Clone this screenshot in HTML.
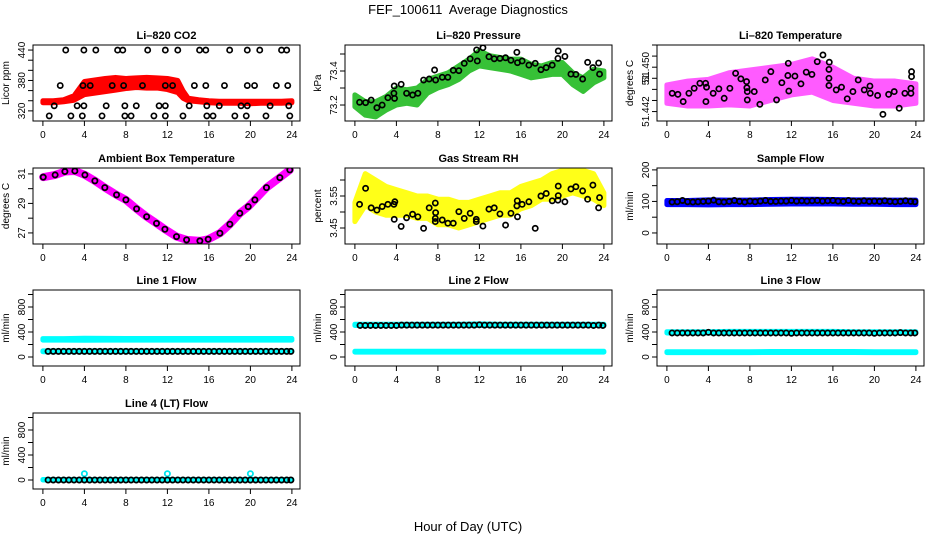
<!DOCTYPE html>
<html><head><meta charset="utf-8"><style>
body{margin:0;background:#fff;}
svg{display:block;font-family:"Liberation Sans",sans-serif;}
</style></head><body>
<svg id="chart" width="936" height="540" xmlns="http://www.w3.org/2000/svg">
<rect width="936" height="540" fill="#fff"/>
<text x="468" y="14" text-anchor="middle" font-size="13" xml:space="preserve">FEF_100611  Average Diagnostics</text>
<text x="468" y="531" text-anchor="middle" font-size="13">Hour of Day (UTC)</text>
</svg>
<script>
// ---------- data ----------
const xTicks = [0,4,8,12,16,20,24];
// CO2
const co2BlackX = [2.2,3.95,5.1,7.2,7.7,10.1,11.8,13.0,15.1,15.7,18.0,19.7,20.9,23.0,23.5,
 1.67,3.86,4.56,6.68,7.78,9.6,11.8,12.5,14.6,15.7,17.5,19.7,20.4,22.5,23.6,
 1.09,3.3,3.95,6.1,7.9,9.0,11.2,11.8,14.1,15.8,17.0,19.1,19.7,21.9,23.7,
 0.61,2.7,3.8,5.7,7.9,8.5,10.7,11.8,13.5,15.8,16.4,18.5,19.6,21.5,23.8];
const co2BlackY = [440,440,440,440,440,440,440,440,440,440,440,440,440,440,440,
 370,370,370,370,370,370,370,370,370,370,370,370,370,370,370,
 330,330,330,330,330,330,330,330,330,330,330,330,330,330,330,
 310,310,310,310,310,310,310,310,310,310,310,310,310,310,310];
const co2BandX = [0,1,2,3,4,5,6,7,8,9,10,11,12,13,13.5,14,15,16,17,18,19,20,21,22,23,24];
const co2BandLo = [336,336,338,341,352,355,358,361,364,366,365,365,362,356,345,340,338,336,335,335,335,334,335,335,335,336];
const co2BandHi = [340,340,342,350,378,381,384,386,384,385,386,385,384,380,360,345,342,340,339,339,339,339,339,339,339,340];
// Pressure
const presBlackX = [0.45,1.03,1.57,2.12,2.63,3.18,3.76,3.82,3.79,4.46,4.98,5.56,6.07,6.62,7.16,7.68,7.78,8.42,8.96,9.48,10.02,10.54,11.11,11.73,11.8,12.34,12.92,13.43,13.98,14.52,15.04,15.61,15.67,16.12,16.77,17.38,17.93,18.44,19.02,19.57,19.6,20.24,20.82,21.3,21.95,22.43,22.94,23.49,23.58];
const presBlackY = [73.216,73.214,73.229,73.184,73.200,73.243,73.269,73.239,73.312,73.322,73.269,73.259,73.269,73.347,73.353,73.406,73.347,73.363,73.363,73.404,73.402,73.445,73.472,73.524,73.459,73.537,73.484,73.472,73.474,73.478,73.463,73.510,73.449,73.459,73.435,73.445,73.408,73.420,73.435,73.474,73.518,73.486,73.382,73.380,73.353,73.451,73.420,73.447,73.382];
const presBandX = [0,1,2,3,4,5,6,7,8,9,10,11,12,13,14,15,16,17,18,19,20,21,22,23,24];
const presBandLo = [73.19,73.14,73.13,73.17,73.20,73.21,73.20,73.27,73.30,73.32,73.35,73.40,73.43,73.42,73.41,73.40,73.38,73.36,73.37,73.38,73.38,73.32,73.28,73.33,73.36];
const presBandHi = [73.26,73.22,73.22,73.25,73.30,73.29,73.30,73.35,73.37,73.39,73.43,73.47,73.52,73.49,73.48,73.47,73.47,73.44,73.43,73.45,73.45,73.39,73.36,73.41,73.40];
// Li-820 temperature
const tempBlackX = [0.51,1.06,1.57,2.12,2.63,3.18,3.73,3.82,3.76,4.46,5.01,5.52,6.07,6.62,7.13,7.68,7.71,7.75,7.75,8.42,8.96,9.48,10.02,10.57,11.08,11.66,11.7,11.75,12.34,12.92,13.43,13.98,14.49,15.04,15.65,15.62,15.62,15.62,16.32,16.83,17.38,17.93,18.44,19.02,19.57,19.6,20.31,20.82,21.37,21.91,22.39,22.94,23.52,23.52,23.58,23.58];
const tempBlackY = [51.4453,51.4451,51.4438,51.4453,51.4462,51.4471,51.4471,51.4464,51.4438,51.4453,51.4461,51.4444,51.4462,51.4489,51.4479,51.4474,51.4463,51.4456,51.4441,51.4456,51.4433,51.4477,51.4492,51.4441,51.4472,51.4485,51.4507,51.4457,51.4484,51.4470,51.4491,51.4487,51.4510,51.4522,51.4509,51.4496,51.4480,51.4467,51.4459,51.4464,51.4443,51.4456,51.4477,51.4459,51.4466,51.4453,51.4449,51.4415,51.4451,51.4456,51.4426,51.4453,51.4453,51.4462,51.4483,51.4492];
const tempBandX = [0,2,4,6,8,10,12,14,16,18,20,22,24];
const tempBandLo = [51.4435,51.4430,51.4430,51.4432,51.4430,51.4440,51.4450,51.4455,51.4440,51.4435,51.4430,51.4430,51.4435];
const tempBandHi = [51.4468,51.4475,51.4478,51.4490,51.4495,51.4500,51.4505,51.4515,51.4500,51.4480,51.4475,51.4475,51.4470];
// Ambient box temperature
const ambX = [0.03,1.18,2.12,3.08,4.05,5.01,5.97,7.1,8.0,9.03,10.0,10.95,11.76,12.88,13.85,15.13,15.93,17.06,18.02,18.98,19.79,20.43,21.55,22.84,23.8];
const ambY = [30.78,30.93,31.16,31.2,30.93,30.53,30.07,29.58,29.24,28.63,28.1,27.65,27.25,26.75,26.53,26.46,26.57,26.98,27.59,28.33,28.78,29.24,30.07,30.75,31.27];
// Gas stream RH
const rhBlackX = [0.45,1.03,1.57,2.12,2.63,3.18,3.76,3.85,3.79,4.46,4.98,5.56,6.07,6.62,7.16,7.78,7.75,7.75,7.75,8.42,8.96,9.48,10.02,10.54,11.11,11.7,11.7,12.34,12.92,13.43,13.98,14.52,15.04,15.61,15.67,15.65,16.12,16.77,17.38,17.93,18.44,19.02,19.57,19.6,19.6,20.24,20.82,21.3,21.95,22.43,22.94,23.49,23.58];
const rhBlackY = [3.524,3.574,3.513,3.506,3.517,3.524,3.524,3.532,3.477,3.455,3.482,3.493,3.485,3.449,3.513,3.498,3.480,3.470,3.528,3.475,3.465,3.465,3.501,3.480,3.496,3.477,3.470,3.456,3.509,3.513,3.494,3.459,3.496,3.519,3.485,3.535,3.524,3.532,3.449,3.550,3.558,3.535,3.537,3.551,3.581,3.532,3.572,3.579,3.566,3.540,3.584,3.513,3.545];
const rhBandX = [0,1,2,3,4,5,6,7,8,9,10,11,12,13,14,15,16,17,18,19,20,21,22,23,24];
const rhBandLo = [3.47,3.52,3.50,3.49,3.49,3.49,3.48,3.48,3.46,3.46,3.45,3.46,3.47,3.48,3.49,3.49,3.51,3.52,3.54,3.54,3.55,3.56,3.55,3.54,3.52];
const rhBandHi = [3.53,3.62,3.60,3.58,3.57,3.56,3.55,3.55,3.54,3.54,3.53,3.53,3.54,3.55,3.56,3.56,3.58,3.59,3.60,3.62,3.63,3.64,3.63,3.62,3.56];
// Flow panels (shared hour grid)
const flowHours = [0.5,1,1.5,2,2.5,3,3.5,4,4.5,5,5.5,6,6.5,7,7.5,8,8.5,9,9.5,10,10.5,11,11.5,12,12.5,13,13.5,14,14.5,15,15.5,16,16.5,17,17.5,18,18.5,19,19.5,20,20.5,21,21.5,22,22.5,23,23.5,23.9];
const bandHours = [0,2,4,6,8,10,12,14,16,18,20,22,24];
const sampleBlack = [98,99,103,99,98,99,100,101,104,99,98,100,103,100,98,101,99,101,103,100,100,101,101,103,101,102,101,102,103,101,102,103,101,100,103,101,100,102,100,101,100,102,100,99,100,102,100,99];
const sampleLo = [90,90,89,90,90,91,92,92,92,91,91,90,90];
const sampleHi = [103,103,105,104,104,106,107,107,106,105,105,104,104];
const line1Black = [90,90,90,90,90,90,90,90,90,90,90,90,90,90,90,90,90,90,90,90,90,90,90,90,90,90,90,90,90,90,90,90,90,90,90,90,90,90,90,90,90,90,90,90,90,90,90,90];
const line1HiLo = [270,270,268,270,270,270,270,270,270,270,270,270,270];
const line1HiHi = [295,295,300,298,296,296,296,296,296,296,296,296,296];
const line1LoLo = [85,85,85,85,85,85,85,85,85,85,85,85,85];
const line1LoHi = [98,98,98,98,98,98,98,98,98,98,98,98,98];
const line2Black = [505,505,505,505,505,505,505,505,510,510,510,510,510,510,510,510,510,510,510,510,510,510,510,515,510,510,510,510,510,510,510,510,510,510,510,510,510,510,510,510,510,510,510,510,510,505,510,505];
const line2HiLo = [505,505,505,505,505,505,505,505,505,505,505,505,505];
const line2HiHi = [525,525,525,525,525,525,530,525,525,525,525,525,525];
const line2LoLo = [78,78,78,78,78,78,78,78,78,78,78,78,78];
const line2LoHi = [92,92,92,92,92,92,92,92,92,92,92,92,92];
const line3Black = [385,385,385,385,385,385,385,395,385,385,385,385,385,385,385,385,385,385,385,385,385,385,385,380,385,385,385,385,385,385,385,385,385,385,385,385,385,385,385,380,385,385,385,385,390,385,385,385];
const line3HiLo = [385,385,385,385,385,385,385,385,385,385,385,385,385];
const line3HiHi = [405,405,405,410,410,410,410,410,410,405,405,405,405];
const line3LoLo = [70,70,70,70,70,72,72,72,72,72,70,70,70];
const line3LoHi = [85,85,85,85,85,88,88,88,88,88,85,85,85];
const line4Black = [0,0,0,0,0,0,0,0,0,0,0,0,0,0,0,0,0,0,0,0,0,0,0,0,0,0,0,0,0,0,0,0,0,0,0,0,0,0,0,0,0,0,0,0,0,0,0,0];
const line4LoLo = [0,0,0,0,0,0,0,0,0,0,0,0,0];
const line4LoHi = [8,8,8,8,8,8,8,8,8,8,8,8,8];
const line4OutX = [4,12,20];
const line4OutY = [100,100,100];

// ---------- layout ----------
const NS = "http://www.w3.org/2000/svg";
const svg = document.getElementById("chart");
const colL = [33,345,657], rowT = [45,168,290,413], PW = 267, PH = 76;
function mk(tag, attrs, parent){ const e=document.createElementNS(NS,tag); for(const k in attrs) e.setAttribute(k,attrs[k]); (parent||svg).appendChild(e); return e; }

function panel(c, r, title, ylab, ymin, ymax, yt, ylabVals, ylabTxt, key){
  const L=colL[c], T=rowT[r];
  const g = mk("g",{});
  
  
  const xs = h => L + 9.9 + h*10.375;
  const ys = v => T + PH - (v-ymin)/(ymax-ymin)*PH;
  const t = mk("text",{x:L+PW/2,y:T-6,"text-anchor":"middle","font-size":"11","font-weight":"bold"},g);
  t.textContent = title;
  
  
  const yl = mk("text",{x:0,y:0,"text-anchor":"middle","font-size":"10",transform:`translate(${L-24},${T+PH/2}) rotate(-90)`},g);
  yl.textContent = ylab;
  
  
  xTicks.forEach(h=>{
    mk("line",{x1:xs(h),x2:xs(h),y1:T+PH,y2:T+PH+5,stroke:"#000","stroke-width":1},g);
    const tx = mk("text",{x:xs(h),y:T+PH+17,"text-anchor":"middle","font-size":"10"},g);
    tx.textContent = h;
    
    
  });
  yt.forEach(v=>{ mk("line",{x1:L-5,x2:L,y1:ys(v),y2:ys(v),stroke:"#000","stroke-width":1},g); });
  ylabVals.forEach((v,i)=>{
    const tt = mk("text",{x:0,y:0,"text-anchor":"middle","font-size":"10",transform:`translate(${L-8},${ys(v)}) rotate(-90)`},g);
    tt.textContent = ylabTxt[i];
    
    
  });
  const clip = mk("clipPath",{id:"clip"+key},g);
  mk("rect",{x:L,y:T,width:PW,height:PH},clip);
  const plot = mk("g",{"clip-path":`url(#clip${key})`},g);
  const box = mk("rect",{x:L,y:T,width:PW,height:PH,fill:"none",stroke:"#000","stroke-width":1},g);
  
  
  return {plot, xs, ys};
}
function band(p, X, lo, hi, color, name, sw, op){
  const pts = X.map((h,i)=>`${p.xs(h)},${p.ys(hi[i])}`).concat(X.map((h,i)=>`${p.xs(h)},${p.ys(lo[i])}`).reverse()).join(" ");
  const e = mk("polygon",{points:pts,fill:color,stroke:color,"stroke-width":sw||5,"stroke-linejoin":"round",opacity:op||1},p.plot);
  
  
}
function pts(p, X, Y, color, name, sw){
  const g = mk("g",{},p.plot);
  
  
  X.forEach((h,i)=>{
    const c = mk("circle",{cx:p.xs(h),cy:p.ys(Y[i]),r:2.6,fill:"none",stroke:color,"stroke-width":sw||1.7},g);
    
    
  });
}
function line(p, X, Y, color, w, name){
  const e = mk("polyline",{points:X.map((h,i)=>`${p.xs(h)},${p.ys(Y[i])}`).join(" "),fill:"none",stroke:color,"stroke-width":w,"stroke-linejoin":"round","stroke-linecap":"round"},p.plot);
  
  
}

// Row 1
let p = panel(0,0,"Li\u2013820 CO2","Licor ppm",300,450,[320,340,360,380,400,420,440],[320,380,440],["320","380","440"],"co2");
band(p,co2BandX,co2BandLo,co2BandHi,"#ff0000","co2-band");
pts(p,co2BlackX,co2BlackY,"#000","co2-average");

p = panel(1,0,"Li\u2013820 Pressure","kPa",73.106,73.553,[73.2,73.3,73.4,73.5],[73.2,73.4],["73.2","73.4"],"pressure");
band(p,presBandX,presBandLo,presBandHi,"#22bb22","pressure-band",5,0.9);
pts(p,presBlackX,presBlackY,"#000","pressure-average");

p = panel(2,0,"Li\u2013820 Temperature","degrees C",51.4403,51.4540,[51.442,51.444,51.446,51.448,51.450,51.452,51.454],[51.442,51.448,51.450],["51.442","51.","51.450"],"temp");
band(p,tempBandX,tempBandLo,tempBandHi,"#ff33ff","temp-band",5,0.8);
pts(p,tempBlackX,tempBlackY,"#000","temp-average");

// Row 2
p = panel(0,1,"Ambient Box Temperature","degrees C",26.25,31.4,[27,28,29,30,31],[27,29,31],["27","29","31"],"ambient");
line(p,ambX,ambY,"#ff00ff",8,"ambient-band");
pts(p,ambX,ambY,"#000","ambient-average",1.8);

p = panel(1,1,"Gas Stream RH","percent",3.40,3.6375,[3.45,3.50,3.55,3.60],[3.45,3.55],["3.45","3.55"],"rh");
band(p,rhBandX,rhBandLo,rhBandHi,"#ffff00","rh-band",5,0.9);
pts(p,rhBlackX,rhBlackY,"#000","rh-average");

p = panel(2,1,"Sample Flow","ml/min",-35,206,[0,50,100,150,200],[0,100,200],["0","100","200"],"sample");
band(p,bandHours,sampleLo,sampleHi,"#0000ff","sample-band");
pts(p,flowHours,sampleBlack,"#000","sample-average",1.8);

// Row 3 / 4 flows
const fT=[0,200,400,600,800,1000], fL=[0,400,800], fLt=["0","400","800"];
p = panel(0,2,"Line 1 Flow","ml/min",-144,1072,fT,fL,fLt,"line1");
band(p,bandHours,line1HiLo,line1HiHi,"#00ffff","line1-upper-band");
band(p,bandHours,line1LoLo,line1LoHi,"#00ffff","line1-lower-band");
pts(p,flowHours,line1Black,"#000","line1-average",1.8);

p = panel(1,2,"Line 2 Flow","ml/min",-144,1072,fT,fL,fLt,"line2");
band(p,bandHours,line2HiLo,line2HiHi,"#00ffff","line2-upper-band");
band(p,bandHours,line2LoLo,line2LoHi,"#00ffff","line2-lower-band");
pts(p,flowHours,line2Black,"#000","line2-average",1.8);

p = panel(2,2,"Line 3 Flow","ml/min",-144,1072,fT,fL,fLt,"line3");
band(p,bandHours,line3HiLo,line3HiHi,"#00ffff","line3-upper-band");
band(p,bandHours,line3LoLo,line3LoHi,"#00ffff","line3-lower-band");
pts(p,flowHours,line3Black,"#000","line3-average",1.8);

p = panel(0,3,"Line 4 (LT) Flow","ml/min",-144,1072,fT,fL,fLt,"line4");
band(p,bandHours,line4LoLo,line4LoHi,"#00ffff","line4-band");
pts(p,line4OutX,line4OutY,"#00e5ee","line4-outliers",1.8);
pts(p,flowHours,line4Black,"#000","line4-average",1.8);
</script>
</body></html>
